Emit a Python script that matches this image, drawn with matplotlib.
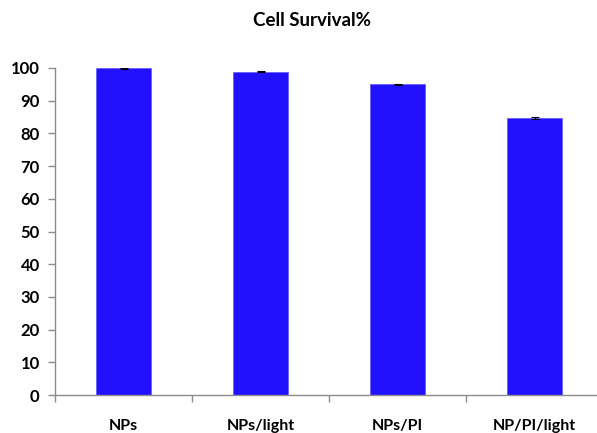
import numpy as np
import matplotlib.pyplot as plt

categories = ["NPs", "NPs/light", "NPs/PI", "NP/PI/light"]
survival = [99.9, 98.9, 95.0, 84.7]
errors = [0.15, 0.15, 0.15, 0.2]
y_ticks = list(range(0, 101, 10))

plt.rcParams['font.family'] = ['Lato', 'DejaVu Sans']

fig = plt.figure(figsize=(5.97, 4.33), dpi=100)
ax = fig.add_axes([55 / 597, 38 / 433, 548 / 597, 327 / 433])

x = np.arange(len(categories))
ax.bar(x, survival, width=0.4, color='#2211FF', edgecolor='#6a60ff', linewidth=0.6,
       yerr=errors, error_kw=dict(ecolor='black', capsize=3, elinewidth=0.8, capthick=0.8))

ax.set_xlim(-0.5, len(categories) - 0.5)
ax.set_ylim(0, 100)
ax.set_yticks(y_ticks)
ax.set_yticklabels([str(t) for t in y_ticks], fontsize=12, fontweight='bold')

# boundary ticks as major, labels on minor ticks at centers
ax.set_xticks(np.arange(len(categories) + 1) - 0.5)
ax.set_xticklabels([])
ax.set_xticks(x, minor=True)
ax.set_xticklabels(categories, minor=True, fontsize=11.5, fontweight='bold')
ax.tick_params(axis='x', which='minor', length=0, pad=17)
ax.tick_params(axis='x', which='major', length=5, color='#8c8c8c', width=1)
ax.tick_params(axis='y', length=5, color='#8c8c8c', width=1, pad=6)

for s in ['top', 'right']:
    ax.spines[s].set_visible(False)
for s in ['left', 'bottom']:
    ax.spines[s].set_color('#8c8c8c')
    ax.spines[s].set_linewidth(1)

fig.text(312 / 597, 1 - 20 / 433, "Cell Survival%", ha='center', va='center',
         fontsize=13.5, fontweight='bold')

fig.savefig('out.png', dpi=100)
